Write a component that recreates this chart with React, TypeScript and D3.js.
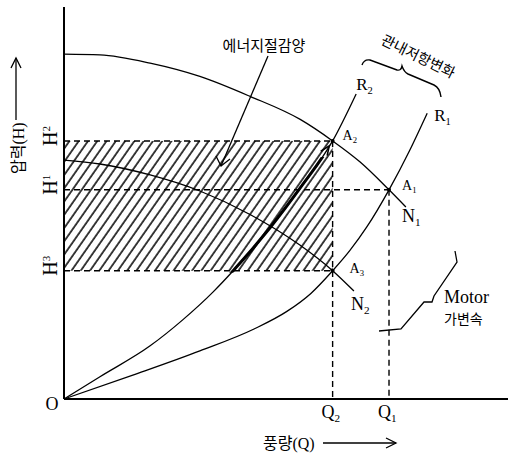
import * as d3 from "d3";

// pump curves: full speed (N1) and reduced speed (N2)
const n1Q = [0, 8.1, 19.4, 30.6, 41.9, 53.2, 60.5, 66.7, 73.2, 77.0];
const n1H = [88.2, 88.0, 85.9, 82.5, 77.4, 71.5, 66.0, 60.6, 53.5, 49.1];
const n2Q = [0, 8.1, 19.4, 30.6, 41.9, 53.2, 60.5, 65.3];
const n2H = [61.1, 60.1, 57.3, 53.2, 47.2, 39.3, 32.8, 27.6];

// system resistance curves
const r1Q = [0, 15.5, 30.6, 42.8, 50.2, 55.6, 60.5, 64.4, 68.2, 73.2, 77.9, 81.8];
const r1H = [0, 6.1, 12.3, 17.9, 22.4, 27.0, 32.8, 38.0, 44.0, 53.5, 63.7, 73.1];
const r2Q = [0, 8.1, 19.4, 26.8, 33.6, 38.1, 46.4, 53.2, 60.5, 65.8];
const r2H = [0, 5.7, 13.6, 20.3, 27.4, 32.8, 43.8, 54.0, 66.0, 78.0];

// operating levels
const headLevels = [66.0, 53.5, 32.8]; // H2, H1, H3
const headSubs = ["2", "1", "3"];
const flowLevels = [60.5, 73.2]; // Q2, Q1
const flowSubs = ["2", "1"];

const W = 508;
const H = 457;
const serif = "'Liberation Serif', 'DejaVu Serif', serif";
const kr = "'Noto Sans CJK KR', sans-serif";

const x = d3.scaleLinear().domain([0, 100]).range([64, 508]);
const y = d3.scaleLinear().domain([0, 100]).range([399, 8]);

const line = d3
  .line<[number, number]>()
  .x((d) => x(d[0]))
  .y((d) => y(d[1]))
  .curve(d3.curveMonotoneX);

const zip = (q: number[], h: number[]) => q.map((v, i) => [v, h[i]] as [number, number]);

const Sub = ({ px, py, t, s, size, anchor = "start" }: any) => (
  <text x={px} y={py} fontFamily={serif} fontSize={size} textAnchor={anchor}>
    {t}
    <tspan fontSize={size * 0.62} dy={size * 0.22}>
      {s}
    </tspan>
  </text>
);

export default function App() {
  const [H2, H1, H3] = headLevels;
  const [Q2, Q1] = flowLevels;
  const n1 = zip(n1Q, n1H);
  const n2 = zip(n2Q, n2H);
  const r1 = zip(r1Q, r1H);
  const r2 = zip(r2Q, r2H);
  const n1End = n1[n1.length - 1];
  const n2End = n2[n2.length - 1];
  const r1End = r1[r1.length - 1];
  const r2End = r2[r2.length - 1];

  // arrow along R2 towards A2
  const p0 = [x(r2Q[7]), y(r2H[7])];
  const p1 = [x(Q2), y(H2)];
  const len = Math.hypot(p1[0] - p0[0], p1[1] - p0[1]);
  const ux = (p1[0] - p0[0]) / len;
  const uy = (p1[1] - p0[1]) / len;
  const tip = [p1[0] - ux * 6, p1[1] - uy * 6];
  const head = (ang: number) => {
    const c = Math.cos(ang);
    const s = Math.sin(ang);
    const bx = -(ux * c - uy * s);
    const by = -(ux * s + uy * c);
    return [tip[0] + bx * 10, tip[1] + by * 10];
  };
  const h1 = head(0.4);
  const h2 = head(-0.4);

  const dash = "6,4";

  return (
    <svg
      width={W}
      height={H}
      style={{ position: "absolute", left: 0, top: 0, background: "#fff" }}
    >
      <defs>
        <pattern
          id="hatch"
          patternUnits="userSpaceOnUse"
          width={7.6}
          height={20}
          patternTransform="rotate(35)"
        >
          <line x1={1} y1={0} x2={1} y2={20} stroke="#000" strokeWidth={1.5} />
        </pattern>
        <clipPath id="thick">
          <rect x={0} y={y(H2) + 16} width={W} height={y(H3) - y(H2) - 14} />
        </clipPath>
      </defs>

      {/* energy saving area */}
      <rect
        x={x(0)}
        y={y(H2)}
        width={x(Q2) - x(0)}
        height={y(H3) - y(H2)}
        fill="url(#hatch)"
      />

      {/* dashed guides */}
      <g stroke="#000" strokeWidth={1.4} strokeDasharray={dash} fill="none">
        <line x1={x(0)} x2={x(Q2)} y1={y(H2)} y2={y(H2)} />
        <line x1={x(0)} x2={x(Q1)} y1={y(H1)} y2={y(H1)} />
        <line x1={x(0)} x2={x(Q2)} y1={y(H3)} y2={y(H3)} />
        <line x1={x(Q2)} x2={x(Q2)} y1={y(H2)} y2={y(0)} />
        <line x1={x(Q1)} x2={x(Q1)} y1={y(H1)} y2={y(0)} />
      </g>

      {/* curves */}
      <g fill="none" stroke="#000" strokeWidth={1.3}>
        <path d={line(n1) || ""} />
        <path d={line(n2) || ""} />
        <path d={line(r1) || ""} />
        <path d={line(r2) || ""} />
        <path d={line(r2) || ""} strokeWidth={3} clipPath="url(#thick)" />
        <polyline
          points={`${h1[0]},${h1[1]} ${tip[0]},${tip[1]} ${h2[0]},${h2[1]}`}
          strokeWidth={1.6}
        />
      </g>

      {/* axes */}
      <g stroke="#000" strokeWidth={2}>
        <line x1={x(0)} x2={x(0)} y1={7} y2={y(0)} />
        <line x1={x(0)} x2={x(100)} y1={y(0)} y2={y(0)} />
      </g>

      {/* operating point markers */}
      {[
        [Q2, H2],
        [Q1, H1],
        [Q2, H3],
      ].map(([q, h], i) => (
        <circle key={i} cx={x(q)} cy={y(h)} r={2} fill="#000" />
      ))}

      {/* head labels */}
      {headLevels.map((h, i) => (
        <text
          key={i}
          transform={`translate(57,${y(h) + 5}) rotate(-90)`}
          fontFamily={serif}
          fontSize={20}
        >
          H
          <tspan fontSize={11} dy={-7}>
            {headSubs[i]}
          </tspan>
        </text>
      ))}

      {/* flow labels */}
      {flowLevels.map((q, i) => (
        <Sub key={i} px={x(q) - 11} py={418} t="Q" s={flowSubs[i]} size={18} />
      ))}
      <text x={52} y={410} fontFamily={serif} fontSize={18} textAnchor="middle">
        O
      </text>

      {/* point and curve labels */}
      <Sub px={x(Q2) + 10} py={y(H2) - 1} t="A" s="2" size={14} />
      <Sub px={x(Q1) + 13} py={y(H1)} t="A" s="1" size={14} />
      <Sub px={x(Q2) + 17} py={y(H3) + 2} t="A" s="3" size={14} />
      <Sub px={x(n1End[0]) - 4} py={y(n1End[1]) + 15} t="N" s="1" size={18} />
      <Sub px={x(n2End[0]) - 3} py={y(n2End[1]) + 19} t="N" s="2" size={18} />
      <Sub px={x(r2End[0])} py={y(r2End[1]) - 4} t="R" s="2" size={17} />
      <Sub px={x(r1End[0]) + 7} py={y(r1End[1]) + 8} t="R" s="1" size={17} />

      {/* axis titles */}
      <text transform="translate(24,174) rotate(-90)" fontFamily={kr} fontSize={16}>
        압력<tspan fontFamily={serif}>(H)</tspan>
      </text>
      <g stroke="#000" strokeWidth={1.3} fill="none">
        <line x1={16} x2={16} y1={120} y2={58} />
        <polyline points="11,68 16,58 21,68" />
      </g>
      <text x={263} y={449} fontFamily={kr} fontSize={16}>
        풍량<tspan fontFamily={serif}>(Q)</tspan>
      </text>
      <g stroke="#000" strokeWidth={1.3} fill="none">
        <line x1={323} x2={396} y1={443} y2={443} />
        <polyline points="386,438 396,443 386,448" />
      </g>

      {/* energy saving annotation */}
      <text x={264} y={51} fontFamily={kr} fontSize={15} textAnchor="middle">
        에너지절감양
      </text>
      <g stroke="#000" strokeWidth={1.3} fill="none">
        <line x1={268} y1={56} x2={221} y2={166} />
        <polyline points="216,156 221,166 230,159" />
      </g>

      {/* resistance change annotation */}
      <text
        transform="translate(416,61) rotate(26)"
        fontFamily={kr}
        fontSize={14.5}
        textAnchor="middle"
      >
        관내저항변화
      </text>
      <path
        d="M362,65 Q364,59 370,60 L397,70 Q401,71 402,66 Q404,72 408,74 L434,85 Q440,88 441,97"
        fill="none"
        stroke="#000"
        strokeWidth={1.4}
      />

      {/* motor variable speed annotation */}
      <polyline
        points="379,331 401,329 424,302 432,302 434,296 457,262 455,251"
        fill="none"
        stroke="#000"
        strokeWidth={1.3}
      />
      <text x={444} y={303} fontFamily={serif} fontSize={18}>
        Motor
      </text>
      <text x={444} y={324} fontFamily={kr} fontSize={14}>
        가변속
      </text>
    </svg>
  );
}
